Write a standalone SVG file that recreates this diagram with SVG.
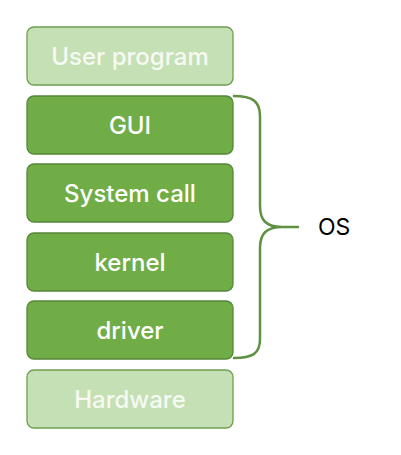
<svg xmlns="http://www.w3.org/2000/svg" width="401" height="455" viewBox="0 0 401 455">
<style>
.box rect{stroke-width:1.3}
.light rect{fill:#c5e0b4;stroke:#6d9e4f}
.dark rect{fill:#70ad47;stroke:#55873a}
.box text{font-family:Inter,"Liberation Sans",Arial,sans-serif;font-size:24px;font-weight:500;text-anchor:middle;fill:#ffffff}
.light text{fill:#f6faf3}
.brace{fill:none;stroke:#5e9140;stroke-width:2.5;stroke-linecap:round}
.lbl{font-family:Inter,"Liberation Sans",Arial,sans-serif;font-size:23px;fill:#000}
</style>
<rect width="401" height="455" fill="#ffffff"/>
<g id="user-program" class="box light"><rect x="27" y="27" width="206" height="58" rx="7"/><text x="130" y="65">User program</text></g>
<g id="gui" class="box dark"><rect x="27" y="96" width="206" height="58" rx="7"/><text x="130" y="134">GUI</text></g>
<g id="system-call" class="box dark"><rect x="27" y="164" width="206" height="58" rx="7"/><text x="130" y="202">System call</text></g>
<g id="kernel" class="box dark"><rect x="27" y="233" width="206" height="58" rx="7"/><text x="130" y="271">kernel</text></g>
<g id="driver" class="box dark"><rect x="27" y="301" width="206" height="58" rx="7"/><text x="130" y="339">driver</text></g>
<g id="hardware" class="box light"><rect x="27" y="370" width="206" height="58" rx="7"/><text x="130" y="408">Hardware</text></g>
<g id="connectors">
<path class="brace" d="M234,96 C252,96 260,101 260,116 L260,206 C260,220 266,227 282,227 L298,227 M282,227 C266,227 260,234 260,248 L260,339 C260,354 252,358 234,358"/>
</g>
<g id="os"><text class="lbl" x="318" y="235">OS</text></g>
</svg>
